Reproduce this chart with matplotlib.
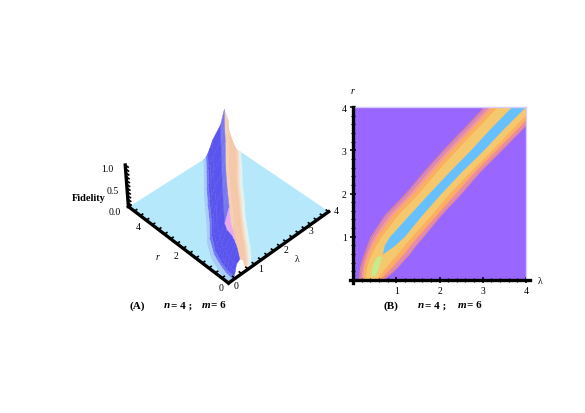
import numpy as np
import matplotlib
matplotlib.use('Agg')
import matplotlib.pyplot as plt
from mpl_toolkits.mplot3d.art3d import Poly3DCollection

plt.rcParams['font.family'] = ['Liberation Serif', 'DejaVu Serif']

# Datos (n = 4, m = 6)
r_st = [0.0, 0.15, 0.3, 0.45, 0.6, 0.8, 1.0, 1.5, 2.0, 2.5, 3.0, 3.5, 4.0]

# lambda a la izquierda / derecha de la cresta para cada curva de nivel
c0_l = [0.15, 0.16, 0.18, 0.22, 0.27, 0.34, 0.42, 0.75, 1.23, 1.65, 2.10, 2.58, 3.05]
c0_r = [0.68, 0.87, 1.03, 1.16, 1.30, 1.45, 1.62, 2.03, 2.50, 2.93, 3.43, 3.92, 4.40]
c1_l = [0.19, 0.20, 0.22, 0.26, 0.31, 0.39, 0.48, 0.83, 1.31, 1.73, 2.18, 2.66, 3.13]
c1_r = [0.64, 0.80, 0.95, 1.08, 1.22, 1.37, 1.54, 1.97, 2.42, 2.86, 3.36, 3.85, 4.33]
c2_l = [0.23, 0.24, 0.26, 0.30, 0.36, 0.45, 0.55, 0.91, 1.39, 1.81, 2.26, 2.74, 3.21]
c2_r = [0.59, 0.73, 0.87, 1.00, 1.14, 1.29, 1.46, 1.91, 2.34, 2.78, 3.28, 3.78, 4.26]
c3_l = [0.28, 0.29, 0.32, 0.36, 0.43, 0.53, 0.65, 1.03, 1.51, 1.93, 2.38, 2.86, 3.33]
c3_r = [0.52, 0.64, 0.76, 0.88, 1.02, 1.18, 1.35, 1.80, 2.22, 2.70, 3.20, 3.68, 4.17]
c4_l = [np.nan, np.nan, np.nan, np.nan, 0.68, 0.72, 0.84, 1.29, 1.75, 2.22, 2.71, 3.17, 3.66]
c4_r = [np.nan, np.nan, np.nan, np.nan, 0.68, 0.96, 1.18, 1.59, 2.03, 2.50, 3.01, 3.48, 3.98]
tip_r = [0.1, 0.25, 0.4, 0.55]
tip_l = [0.42, 0.42, 0.47, 0.55]
tip_h = [0.50, 0.58, 0.62, 0.66]

# altura (Fidelity) de cada curva y de la cresta
levels = [0.04, 0.10, 0.20, 0.38, 0.65]
crest = [0.45, 0.60, 0.72, 0.82, 0.90, 0.97, 1.0, 1.0, 1.0, 1.0, 1.0, 1.0, 1.0]

ticks_major = [1, 2, 3, 4]

band_cols = ['#cf8fe0', '#f49c98', '#fbb060', '#f6c86e']
line_widths = [0.7, 0.6, 0, 0]
flat_col = '#b6e8fb'
left_cols = ['#a8ccf8', '#6f78f2', '#5a55ee', '#5a55ee', '#5a55ee', '#7a78f0']
right_cols = ['#f5d0b4', '#f4c8a8', '#f4c6a6', '#f5ccb0', '#f7dcc6', '#e4f2ee']


def fx(px):
    return px / 585


def fy(py):
    return 1 - py / 414


fig = plt.figure(figsize=(5.85, 4.14), dpi=100)

# ---------- Panel A ----------
ax3 = fig.add_axes([fx(82), fy(336), 285 / 585, 285 / 414], projection='3d', computed_zorder=False)
ax3.set_proj_type('persp', focal_length=0.8)
ax3.view_init(elev=43, azim=-134)
ax3.set_xlim(0, 4)
ax3.set_ylim(0, 4)
ax3.set_zlim(0, 1.1)
ax3.set_box_aspect((3.85, 4, 1.55), zoom=0.72)
ax3.set_axis_off()

r = np.array(r_st)
mid_l = np.where(np.isnan(c4_l), (np.array(c3_l) + np.array(c3_r)) / 2, c4_l)
mid_r = np.where(np.isnan(c4_r), (np.array(c3_l) + np.array(c3_r)) / 2, c4_r)
top = np.array(crest)
lam_cols = [np.zeros_like(r), np.array(c0_l) - 0.12, np.array(c0_l), np.array(c1_l),
            np.array(c2_l), np.array(c3_l), mid_l, (mid_l + mid_r) / 2, mid_r, np.array(c3_r),
            np.array(c2_r), np.array(c1_r), np.array(c0_r), np.array(c0_r) + 0.12, np.full_like(r, 4.2)]
lev_cols = [0, 0] + levels + [9] + levels[::-1] + [0, 0]
X = np.minimum(np.maximum(np.array(lam_cols).T, 0), 4)
Z = np.minimum(np.array(lev_cols)[None, :], top[:, None])
cols = [flat_col] + left_cols + right_cols + [flat_col]

# cuadros dibujados de atras hacia delante
order = 1.0
for i in range(len(r_st) - 2, -1, -1):
    for j in range(X.shape[1] - 2, -1, -1):
        quad = [(X[i, j], r[i], Z[i, j]), (X[i, j + 1], r[i], Z[i, j + 1]),
                (X[i + 1, j + 1], r[i + 1], Z[i + 1, j + 1]), (X[i + 1, j], r[i + 1], Z[i + 1, j])]
        col = cols[j]
        if j == 6 and r[i] < 1.0:
            col = '#e8a8f0'
        pc = Poly3DCollection([quad], facecolor=col, edgecolor=col, linewidth=0.3, zorder=order)
        ax3.add_collection3d(pc)
        order += 0.01

# ejes gruesos
lw_ax = 2.4
z_ax = order + 1
ax3.plot([0, 4], [0, 0], [0, 0], color='k', lw=lw_ax, zorder=z_ax)
ax3.plot([0, 0], [0, 4], [0, 0], color='k', lw=lw_ax, zorder=z_ax)
ax3.plot([0, 0], [4, 4], [0, 1.1], color='k', lw=lw_ax, zorder=z_ax)
for t in np.arange(0, 4.01, 0.25):
    ax3.plot([t, t], [0, 0.09], [0, 0], color='k', lw=1.2, zorder=z_ax)
    ax3.plot([0, 0.09], [t, t], [0, 0], color='k', lw=1.2, zorder=z_ax)
for t in np.arange(0, 1.11, 0.1):
    ax3.plot([0, 0], [4, 3.88], [t, t], color='k', lw=1.2, zorder=z_ax)

txt = dict(fontsize=7, ha='center', va='center')
for s, px, py in zip(['1.0', '0.5', '0.0'], [107, 113, 115], [169, 191, 213]):
    fig.text(fx(px), fy(py), s, **txt)
fig.text(fx(89), fy(199), 'Fidelity', fontsize=7.5, ha='center', va='center', fontweight='bold')
for s, px, py in zip(['4', '2', '0'], [138, 176, 221], [228, 257, 289]):
    fig.text(fx(px), fy(py), s, **txt)
for s, px, py in zip(['0', '1', '2', '3', '4'], [236, 261, 286, 311, 336], [287, 270, 251, 232, 211]):
    fig.text(fx(px), fy(py), s, **txt)
fig.text(fx(157), fy(258), 'r', style='italic', **txt)
fig.text(fx(297), fy(259), '\u03bb', **txt)

# ---------- Panel B ----------
ax = fig.add_axes([fx(353), fy(281), 173 / 585, 173 / 414])
ax.set_facecolor('#9966ff')
ax.set_xlim(0, 4)
ax.set_ylim(0, 4)
for cl, cr, col, lw in zip([c0_l, c1_l, c2_l, c3_l], [c0_r, c1_r, c2_r, c3_r], band_cols, line_widths):
    ax.fill_betweenx(r_st, cl, cr, color=col, lw=0)
    if lw > 0:
        ax.plot(cl, r_st, color='#f0846c', lw=lw)
        ax.plot(cr, r_st, color='#f0846c', lw=lw)
ax.fill_betweenx(tip_r, tip_l, tip_h, color='#c4ec8c', lw=0)
ax.fill_betweenx(r_st, c4_l, c4_r, color='#66c0ff', lw=0)

for side in ['top', 'right']:
    ax.spines[side].set_color('#d8ccff')
    ax.spines[side].set_linewidth(1)
for side in ['left', 'bottom']:
    ax.spines[side].set_linewidth(2.4)
    ax.spines[side].set_zorder(6)
ax.spines['left'].set_bounds(-0.06, 4.0)
ax.spines['bottom'].set_bounds(-0.06, 4.1)
ax.set_xticks(ticks_major)
ax.set_yticks(ticks_major)
ax.set_xticks(np.arange(0, 4.01, 0.2), minor=True)
ax.set_yticks(np.arange(0, 4.01, 0.2), minor=True)
ax.tick_params(which='major', direction='inout', length=5, width=1.1, labelsize=7, pad=2)
ax.tick_params(which='minor', direction='inout', length=3, width=0.8)
fig.text(fx(540), fy(282), '\u03bb', **txt)
fig.text(fx(352), fy(92), 'r', style='italic', **txt)

# ---------- Pies ----------
cap = dict(fontsize=8, ha='left', va='center', fontweight='bold')
caps = [(129, '(A)', 164, 202), (383, '(B)', 418, 458)]
for x0, tag, xn, xm in caps:
    fig.text(fx(x0), fy(306), tag, **cap)
    fig.text(fx(xn), fy(306), 'n', style='italic', **cap)
    fig.text(fx(xn + 7), fy(306), '= 4 ;', **cap)
    fig.text(fx(xm), fy(306), 'm', style='italic', **cap)
    fig.text(fx(xm + 9), fy(306), '= 6', **cap)

fig.savefig('out.png', dpi=100)
